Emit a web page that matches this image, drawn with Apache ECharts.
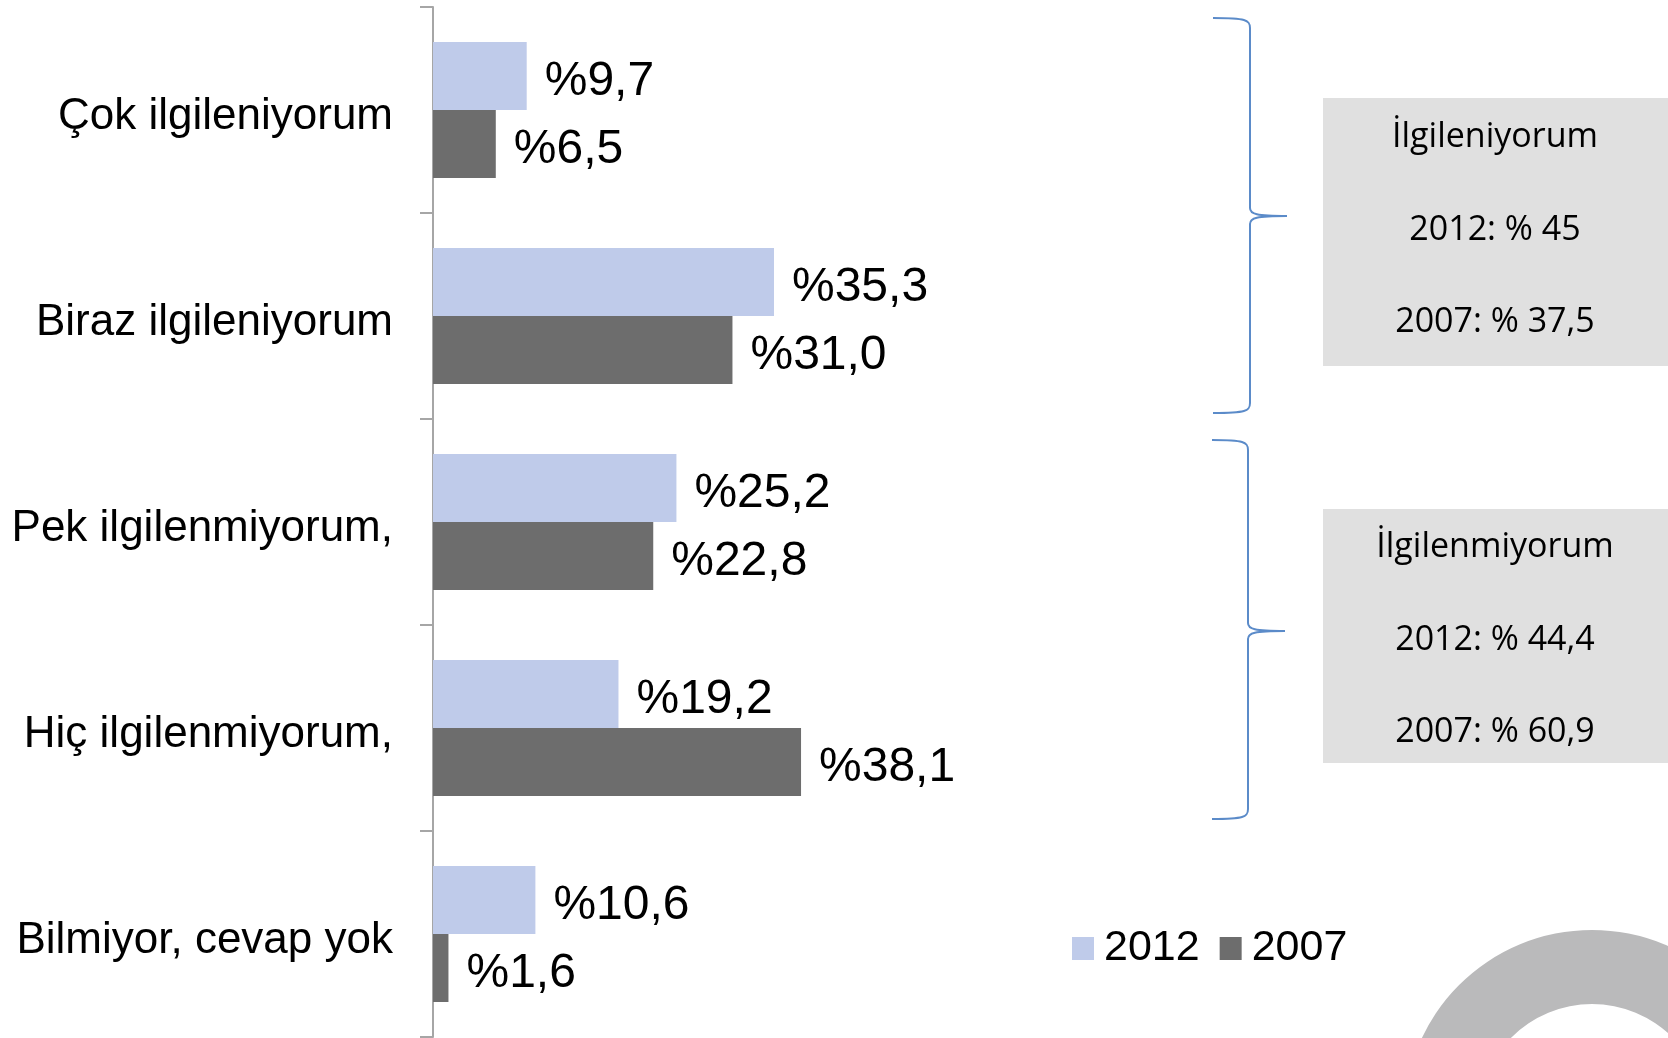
<!DOCTYPE html>
<html>
<head>
<meta charset="utf-8">
<script src="https://cdn.jsdelivr.net/npm/echarts@6/dist/echarts.min.js"></script>
<style>
  html, body { margin: 0; padding: 0; background: #fff; }
  #chart { width: 1668px; height: 1038px; }
</style>
</head>
<body>
<div id="chart"></div>
<script>
// data
const categories = ['Çok ilgileniyorum', 'Biraz ilgileniyorum', 'Pek ilgilenmiyorum,', 'Hiç ilgilenmiyorum,', 'Bilmiyor, cevap yok']
const values2012 = [9.7, 35.3, 25.2, 19.2, 10.6]
const values2007 = [6.5, 31.0, 22.8, 38.1, 1.6]
const seriesNames = ['2012', '2007']
const summaryInterested = ['İlgileniyorum', '2012: % 45', '2007: % 37,5']
const summaryNotInterested = ['İlgilenmiyorum', '2012: % 44,4', '2007: % 60,9']

const font = "'Liberation Sans', Arial, sans-serif"
const boxFont = "'Open Sans', sans-serif"
const braceColor = '#5b8bc9'

function pct(v) {
  return '%' + v.value.toFixed(1).replace('.', ',')
}

// curly brace opening to the left, tip pointing right
function brace(x0, xv, xt, top, mid, bottom) {
  const st = { stroke: braceColor, lineWidth: 2, fill: null }
  const curve = (x1, y1, c1x, c1y, c2x, c2y, x2, y2) => ({
    type: 'bezierCurve',
    shape: { x1, y1, cpx1: c1x, cpy1: c1y, cpx2: c2x, cpy2: c2y, x2, y2 },
    style: st
  })
  const line = (x1, y1, x2, y2) => ({ type: 'line', shape: { x1, y1, x2, y2 }, style: st })
  return [
    curve(x0, top, xv - 4, top, xv, top + 2, xv, top + 10),
    line(xv, top + 10, xv, mid - 8),
    curve(xv, mid - 8, xv, mid - 2, xv + 6, mid, xt, mid),
    curve(xt, mid, xv + 6, mid, xv, mid + 2, xv, mid + 8),
    line(xv, mid + 8, xv, bottom - 10),
    curve(xv, bottom - 10, xv, bottom - 2, xv - 4, bottom, x0, bottom)
  ]
}

function summaryBox(lines, top, height, lineYs) {
  const els = [{
    type: 'rect',
    shape: { x: 1323, y: top, width: 345, height: height },
    style: { fill: '#e0e0e0' },
    z: 1
  }]
  lines.forEach((t, i) => {
    els.push({
      type: 'text',
      x: 1495,
      y: lineYs[i],
      style: {
        text: t, fill: '#000', font: '34px ' + boxFont,
        align: 'center', verticalAlign: 'middle'
      },
      z: 2
    })
  })
  return els
}

const chart = echarts.init(document.getElementById('chart'))

const valueLabel = {
  show: true, position: 'right', distance: 18, offset: [0, 6],
  formatter: pct, fontSize: 48, fontFamily: font, color: '#000'
}

const option = {
  animation: false,
  grid: { left: 433, top: 7, width: 386.4, height: 1030 },
  legend: {
    data: seriesNames,
    left: 1067,
    top: 922,
    icon: 'rect',
    itemWidth: 22,
    itemHeight: 23,
    itemGap: 20,
    textStyle: { fontSize: 43, fontFamily: font, color: '#000', padding: [0, 0, 0, 5] }
  },
  xAxis: {
    type: 'value',
    min: 0,
    max: 40,
    show: false
  },
  yAxis: {
    type: 'category',
    data: categories,
    inverse: true,
    axisLine: { show: true, lineStyle: { color: '#a6a6a6', width: 2 } },
    axisTick: { show: true, inside: false, alignWithLabel: false, length: 13, lineStyle: { color: '#a6a6a6', width: 2 } },
    axisLabel: {
      margin: 40,
      formatter: v => '{c|' + v + '}',
      rich: { c: { fontSize: 44, fontFamily: font, color: '#000', padding: [14, 0, 0, 0] } }
    }
  },
  series: [
    {
      name: seriesNames[0],
      type: 'bar',
      data: values2012,
      barWidth: 68,
      barGap: '0%',
      itemStyle: { color: '#bfcbea' },
      label: valueLabel
    },
    {
      name: seriesNames[1],
      type: 'bar',
      data: values2007,
      barWidth: 68,
      barGap: '0%',
      itemStyle: { color: '#6d6d6d' },
      label: valueLabel
    }
  ],
  graphic: [
    ...brace(1213, 1250, 1287, 18, 216, 413),
    ...brace(1212, 1248, 1285, 440, 631, 819),
    ...summaryBox(summaryInterested, 98, 268, [137, 230, 322]),
    ...summaryBox(summaryNotInterested, 509, 254, [547, 640, 732]),
    {
      type: 'ring',
      shape: { cx: 1592, cy: 1118, r: 188, r0: 114 },
      style: { fill: '#bababb' }
    }
  ]
}

chart.setOption(option)
</script>
</body>
</html>
